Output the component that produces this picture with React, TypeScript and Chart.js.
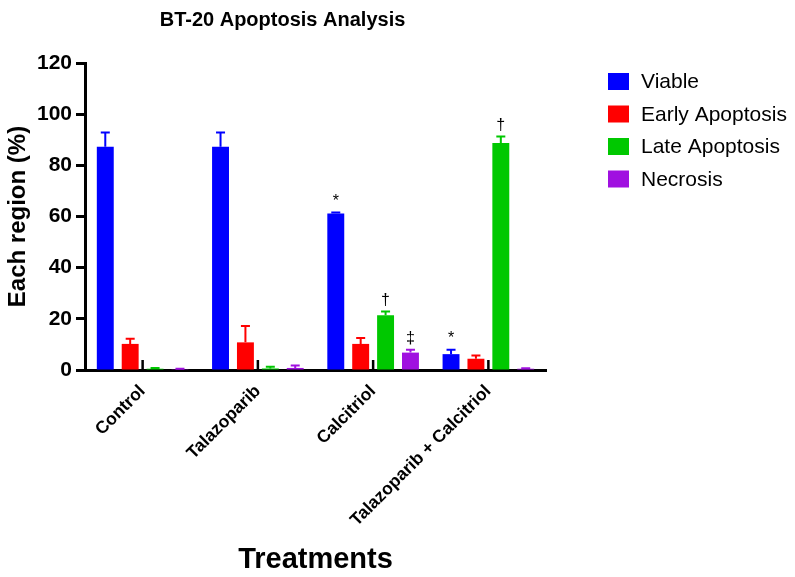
import React, { useEffect, useRef } from "react";
import { Chart, registerables } from "chart.js";
Chart.register(...registerables);

const FONT = "'Liberation Sans', Arial, sans-serif";

const chartTitle = "BT-20 Apoptosis Analysis";
const xTitle = "Treatments";
const yTitle = "Each region (%)";

const categories = ["Control", "Talazoparib", "Calcitriol", "Talazoparib + Calcitriol"];
const seriesNames = ["Viable", "Early Apoptosis", "Late Apoptosis", "Necrosis"];
const seriesColors = ["#0000FF", "#FF0000", "#00C800", "#A010E0"];

const viable = [87.3, 87.3, 61.2, 6.2];
const viableErr = [5.5, 5.5, 0.4, 1.7];
const early = [10.2, 10.8, 10.2, 4.4];
const earlyErr = [2.0, 6.4, 2.3, 1.3];
const late = [0.5, 0.6, 21.4, 88.7];
const lateErr = [0.3, 0.7, 1.5, 2.6];
const necrosis = [0.3, 0.8, 6.8, 0.5];
const necrosisErr = [0.2, 1.0, 1.1, 0.2];

const viableSig = ["", "", "*", "*"];
const earlySig = ["", "", "", ""];
const lateSig = ["", "", "\u2020", "\u2020"];
const necrosisSig = ["", "", "\u2021", ""];

const yTicks = [0, 20, 40, 60, 80, 100, 120];

const values = [viable, early, late, necrosis];
const errors = [viableErr, earlyErr, lateErr, necrosisErr];
const sigs = [viableSig, earlySig, lateSig, necrosisSig];

const errorBarPlugin = {
  id: "errorBars",
  afterDatasetsDraw(chart: any) {
    const ctx = chart.ctx;
    const y = chart.scales.y;
    const x = chart.scales.x;
    const area = chart.chartArea;
    ctx.save();
    // inner category ticks
    ctx.strokeStyle = "#000";
    ctx.lineWidth = 2.5;
    categories.forEach((_, i) => {
      const px = x.getPixelForTick(i);
      ctx.beginPath();
      ctx.moveTo(px, area.bottom);
      ctx.lineTo(px, area.bottom - 10);
      ctx.stroke();
    });
    chart.data.datasets.forEach((ds: any, di: number) => {
      const meta = chart.getDatasetMeta(di);
      meta.data.forEach((el: any, j: number) => {
        const v = values[di][j];
        const e = errors[di][j];
        const top = y.getPixelForValue(v + e);
        const base = y.getPixelForValue(v);
        ctx.strokeStyle = seriesColors[di];
        ctx.lineWidth = 2;
        ctx.beginPath();
        ctx.moveTo(el.x, base);
        ctx.lineTo(el.x, top);
        ctx.moveTo(el.x - 4.5, top);
        ctx.lineTo(el.x + 4.5, top);
        ctx.stroke();
        const s = sigs[di][j];
        if (s) {
          ctx.fillStyle = "#000";
          ctx.font = `16px ${FONT}`;
          ctx.textAlign = "center";
          ctx.textBaseline = "bottom";
          ctx.fillText(s, el.x, top - 3);
        }
      });
    });
    ctx.restore();
  },
};

const decorPlugin = {
  id: "decor",
  afterDraw(chart: any) {
    const ctx = chart.ctx;
    const area = chart.chartArea;
    ctx.save();
    // title
    ctx.fillStyle = "#000";
    ctx.font = `bold 20px ${FONT}`;
    ctx.textAlign = "center";
    ctx.textBaseline = "middle";
    ctx.fillText(chartTitle, (area.left + area.right) / 2 - 33, 20);
    // legend
    const x0 = area.right + 62;
    chart.data.datasets.forEach((ds: any, i: number) => {
      const cy = area.top + 18.5 + i * 32.5;
      ctx.fillStyle = ds.backgroundColor;
      ctx.fillRect(x0, cy - 8.5, 21, 17);
      ctx.fillStyle = "#000";
      ctx.font = `21px ${FONT}`;
      ctx.textAlign = "left";
      ctx.textBaseline = "middle";
      ctx.fillText(ds.label, x0 + 33, cy + 1);
    });
    ctx.restore();
  },
};

export default function App() {
  const ref = useRef<HTMLCanvasElement | null>(null);
  useEffect(() => {
    if (!ref.current) return;
    const chart = new Chart(ref.current, {
      type: "bar",
      data: {
        labels: categories,
        datasets: seriesNames.map((name, i) => ({
          label: name,
          data: values[i],
          backgroundColor: seriesColors[i],
          borderWidth: 0,
          barPercentage: 0.68,
          categoryPercentage: 0.864,
        })),
      },
      options: {
        animation: false,
        responsive: false,
        layout: { padding: { top: 63, right: 249, bottom: 0, left: 0 } },
        plugins: {
          legend: { display: false },
          title: { display: false },
          tooltip: { enabled: false },
        },
        scales: {
          x: {
            grid: { display: false, drawTicks: false },
            border: { display: true, color: "#000", width: 3 },
            ticks: {
              color: "#000",
              font: { family: FONT, size: 17.5, weight: "bold" },
              maxRotation: 45,
              minRotation: 45,
              autoSkip: false,
              padding: 11,
            },
            title: {
              display: true,
              text: xTitle,
              color: "#000",
              font: { family: FONT, size: 29, weight: "bold" },
              padding: { top: 0, bottom: 0 },
            },
            afterFit: (s: any) => {
              s.height = 207;
            },
          },
          y: {
            min: 0,
            max: 120,
            grid: { drawOnChartArea: false, drawTicks: true, tickLength: 9, tickWidth: 3, color: "#000" },
            border: { display: true, color: "#000", width: 3 },
            ticks: {
              stepSize: 20,
              color: "#000",
              font: { family: FONT, size: 21, weight: "bold" },
              padding: 4,
            },
            title: {
              display: true,
              text: yTitle,
              color: "#000",
              font: { family: FONT, size: 24, weight: "bold" },
              padding: { top: 4, bottom: 0 },
            },
            afterBuildTicks: (s: any) => {
              s.ticks = yTicks.map((v) => ({ value: v }));
            },
            afterFit: (s: any) => {
              s.width = 85;
            },
          },
        },
      } as any,
      plugins: [errorBarPlugin, decorPlugin],
    });
    return () => chart.destroy();
  }, []);
  return (
    <div style={{ position: "fixed", left: 0, top: 0, width: 795, height: 577, background: "#fff" }}>
      <canvas ref={ref} width={795} height={577} style={{ display: "block" }} />
    </div>
  );
}
